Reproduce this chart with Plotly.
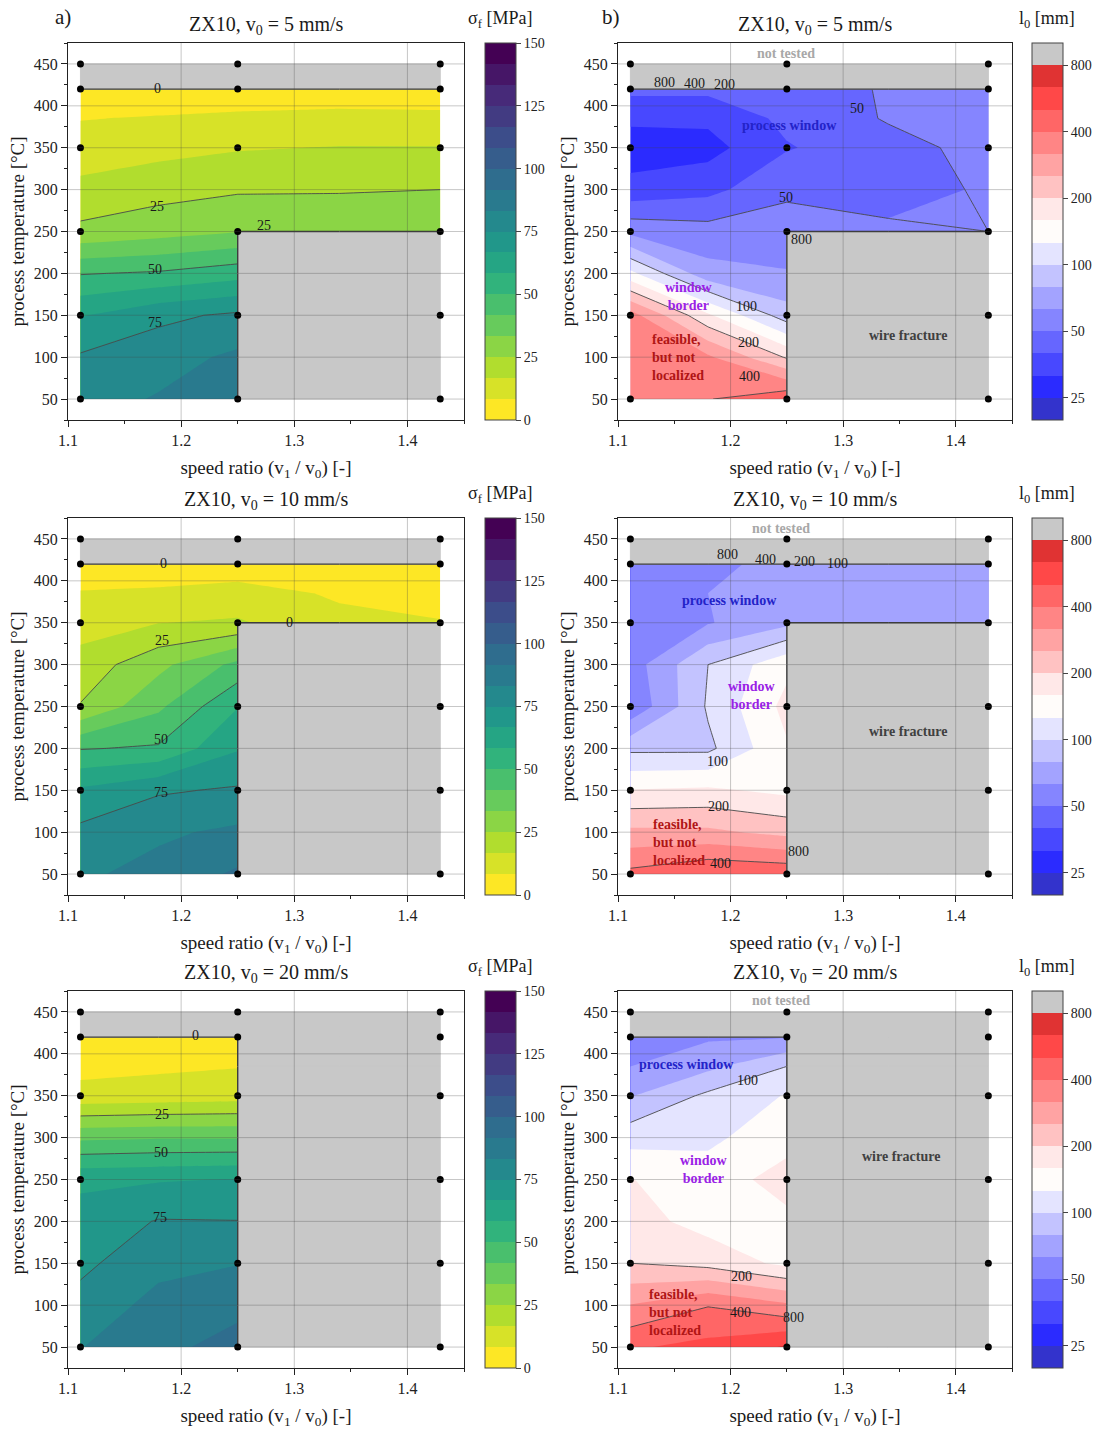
import numpy as np
import plotly.graph_objects as go

# ---------------- data ----------------
X_GRID = [1.111, 1.18, 1.25, 1.34, 1.429]           # speed ratio grid of the maps
T_GRID = [50, 100, 150, 200, 250, 300, 350, 385, 420, 450]  # temperature grid
SPEED = [1.111, 1.25, 1.429]                        # tested speed ratios (dots)
TEMP = [50, 150, 250, 350, 420, 450]                # tested temperatures (dots)
N = None  # wire fracture / not tested

# fracture stress sigma_f [MPa], rows = T_GRID, cols = X_GRID
SIGMA_5 = [
    [80, 84, 88, N, N],
    [76, 80, 85, N, N],
    [66, 73, 76.5, N, N],
    [49.5, 51, 55, N, N],
    [27, 30, 33, 30, 29],
    [19, 22, 24, 24.5, 25],
    [12, 14, 16, 17, 17],
    [8, 9, 10, 11, 10.5],
    [2, 2, 3, 3, 3],
    [N, N, N, N, N],
]
SIGMA_10 = [
    [82, 86, 93, N, N],
    [77, 82, 85, N, N],
    [68, 74, 76, N, N],
    [49.5, 51, 66, N, N],
    [25.5, 40, 58, N, N],
    [20, 31, 44, N, N],
    [13, 16.5, 17.5, 11, 8.8],
    [9, 10, 12.5, 7, 5],
    [2, 2, 2, 2, 2],
    [N, N, N, N, N],
]
SIGMA_20 = [
    [83, 90, 94, N, N],
    [78, 86, 90, N, N],
    [73, 81, 83, N, N],
    [70, 75.5, 75.2, N, N],
    [65, 66, 67, N, N],
    [40, 41, 41, N, N],
    [11, 12, 13, N, N],
    [6, 7, 8, N, N],
    [2, 2, 2, N, N],
    [N, N, N, N, N],
]
# deformation length l0 [mm]
L0_5 = [
    [380, 395, 480, N, N],
    [360, 330, 195, N, N],
    [350, 165, 88, N, N],
    [134, 68, 64, N, N],
    [59, 55, 55, 53, 50],
    [34, 37, 48, 44, 52],
    [28, 29, 39, 46, 54],
    [33, 33, 42, 51, 56],
    [42, 42, 45, 51, 56],
    [N, N, N, N, N],
]
L0_10 = [
    [427, 500, 480, N, N],
    [266, 265, 235, N, N],
    [160, 165, 150, N, N],
    [95, 95, 155, N, N],
    [52, 103, 170, N, N],
    [56, 100, 150, N, N],
    [55, 62, 75, 72, 72],
    [54, 63, 72, 72, 72],
    [52, 58, 70, 72, 72],
    [N, N, N, N, N],
]
L0_20 = [
    [490, 540, 650, N, N],
    [320, 395, 330, N, N],
    [200, 185, 150, N, N],
    [175, 145, 150, N, N],
    [160, 140, 175, N, N],
    [115, 120, 145, N, N],
    [78, 105, 128, N, N],
    [63, 75, 100, N, N],
    [52, 61, 62, N, N],
    [N, N, N, N, N],
]
V0 = [5, 10, 20]

SIGMA_TICKS = [0, 25, 50, 75, 100, 125, 150]
L0_TICKS = [25, 50, 100, 200, 400, 800]
X_TICKS = [1.1, 1.2, 1.3, 1.4]
Y_TICKS = [50, 100, 150, 200, 250, 300, 350, 400, 450]

L0_COLORS = ['#3333cc', '#2b2bff', '#4848ff', '#6666ff', '#8585ff', '#a3a3ff',
             '#c3c3ff', '#e4e4ff', '#fffcfa', '#ffe8e8', '#ffc2c2', '#ffa3a3',
             '#ff8585', '#ff6666', '#ff4848', '#e03333', '#c8c8c8']
GRAY = '#c8c8c8'
FONT = 'Liberation Serif'

# contour labels (text, x, y)
LABELS = {
    1: [('0', 1.179, 421), ('25', 1.179, 280), ('25', 1.273, 257), ('50', 1.177, 205), ('75', 1.177, 141)],
    3: [('0', 1.184, 421), ('0', 1.296, 350), ('25', 1.183, 329), ('50', 1.182, 211), ('75', 1.182, 147)],
    5: [('0', 1.213, 422), ('25', 1.183, 327), ('50', 1.182, 282), ('75', 1.181, 205)],
    2: [('800', 1.141, 428), ('400', 1.168, 427), ('200', 1.195, 426), ('50', 1.312, 397), ('50', 1.249, 291),
        ('800', 1.263, 241), ('100', 1.214, 160), ('200', 1.216, 118), ('400', 1.217, 77)],
    4: [('800', 1.197, 432), ('400', 1.231, 426), ('200', 1.266, 423), ('100', 1.295, 421), ('100', 1.188, 184),
        ('200', 1.189, 131), ('400', 1.191, 63), ('800', 1.260, 77)],
    6: [('100', 1.215, 368), ('200', 1.210, 134), ('400', 1.209, 91), ('800', 1.256, 85)],
}
# region texts: (text, x, y, color, xanchor)
REGIONS = {
    2: [('not tested', 1.249, 463, '#a8a8a8', 'center'), ('process window', 1.252, 376, '#2323c8', 'center'),
        ('window<br>border', 1.163, 172, '#9a22e6', 'center'),
        ('feasible,<br>but not<br>localized', 1.128, 100, '#b01515', 'left'),
        ('wire fracture', 1.358, 126, '#404040', 'center')],
    4: [('not tested', 1.245, 462, '#a8a8a8', 'center'), ('process window', 1.199, 376, '#2323c8', 'center'),
        ('window<br>border', 1.219, 263, '#9a22e6', 'center'),
        ('feasible,<br>but not<br>localized', 1.129, 88, '#b01515', 'left'),
        ('wire fracture', 1.358, 220, '#404040', 'center')],
    6: [('not tested', 1.245, 464, '#a8a8a8', 'center'), ('process window', 1.117, 387, '#2323c8', 'left'),
        ('window<br>border', 1.176, 262, '#9a22e6', 'center'),
        ('feasible,<br>but not<br>localized', 1.126, 91, '#b01515', 'left'),
        ('wire fracture', 1.351, 277, '#404040', 'center')],
}

# ---------------- layout geometry ----------------
W, H = 1104, 1429
XDOM = {'L': [68 / W, 464 / W], 'R': [618 / W, 1012 / W]}
CBX = {'L': 485 / W, 'R': 1032 / W}
ROWS = [(43, 420), (518, 895), (991, 1368)]


def ydom(r):
    top, bot = ROWS[r]
    return [1 - bot / H, 1 - top / H]


fig = go.Figure()
layout = dict(width=W, height=H, margin=dict(l=0, r=0, t=0, b=0), autosize=False,
              paper_bgcolor='white', plot_bgcolor='white', showlegend=False,
              font=dict(family=FONT, color='#1a1a1a'))
annotations = []
shapes = []

panels = []
for r, v0 in enumerate(V0):
    panels.append(dict(idx=2 * r + 1, row=r, side='L', kind='sigma', data=[SIGMA_5, SIGMA_10, SIGMA_20][r], v0=v0))
    panels.append(dict(idx=2 * r + 2, row=r, side='R', kind='l0', data=[L0_5, L0_10, L0_20][r], v0=v0))

nR, nC = len(T_GRID), len(X_GRID)

for p in panels:
    i = p['idx']
    xa = 'x' if i == 1 else f'x{i}'
    ya = 'y' if i == 1 else f'y{i}'
    raw = np.array([[np.nan if v is None else v for v in row] for row in p['data']], dtype=float)

    if p['kind'] == 'sigma':
        z = raw
        step = 25 / 3
        fill_c = dict(coloring='fill', showlines=False, start=step, end=150 - step, size=step)
        line_c = dict(coloring='none', showlines=True, start=0, end=150, size=25)
        cscale, rev = 'Viridis', True
        zmin, zmax = 0, 150
        cb_tickvals = SIGMA_TICKS
        cb_ticktext = [str(t) for t in SIGMA_TICKS]
        cbtitle = 'σ<sub>f</sub> [MPa]'
    else:
        z = np.log2(raw)
        step = 1 / 3
        top = np.log2(800)
        fill_c = dict(coloring='fill', showlines=False, start=np.log2(25), end=top, size=step)
        line_c = dict(coloring='none', showlines=True, start=np.log2(50), end=top, size=1)
        n = len(L0_COLORS) - 1
        cscale = [[k / n, c] for k, c in enumerate(L0_COLORS)]
        rev = False
        zmin, zmax = top - 16 * step, top + step
        cb_tickvals = list(np.log2(L0_TICKS))
        cb_ticktext = [str(t) for t in L0_TICKS]
        cbtitle = 'l<sub>0</sub> [mm]'

    yd = ydom(p['row'])
    fig.add_trace(go.Contour(
        x=X_GRID, y=T_GRID, z=z, xaxis=xa, yaxis=ya, contours=fill_c,
        line=dict(width=0, smoothing=0), colorscale=cscale, reversescale=rev,
        zauto=False, zmin=zmin, zmax=zmax, hoverinfo='skip', showscale=True,
        colorbar=dict(x=CBX[p['side']], xanchor='left', xpad=0, ypad=0,
                      y=(yd[0] + yd[1]) / 2, yanchor='middle', len=yd[1] - yd[0], lenmode='fraction',
                      thickness=31, thicknessmode='pixels', outlinewidth=1, outlinecolor='#444',
                      tickmode='array', tickvals=cb_tickvals, ticktext=cb_ticktext,
                      ticks='outside', ticklen=5, tickcolor='#444',
                      tickfont=dict(family=FONT, size=14, color='#222'))))
    fig.add_trace(go.Contour(
        x=X_GRID, y=T_GRID, z=z, xaxis=xa, yaxis=ya, contours=line_c,
        line=dict(color='#4a4a4a', width=0.9, smoothing=0), colorscale=cscale,
        showscale=False, hoverinfo='skip'))

    # gray cells (fracture / not tested) and their borders to valid cells
    gray = [[any(p['data'][a][b] is None for a in (ii, ii + 1) for b in (jj, jj + 1))
             for jj in range(nC - 1)] for ii in range(nR - 1)]
    gx, gy, bx, by = [], [], [], []
    for ii in range(nR - 1):
        for jj in range(nC - 1):
            if not gray[ii][jj]:
                continue
            x0, x1 = X_GRID[jj], X_GRID[jj + 1]
            y0, y1 = T_GRID[ii], T_GRID[ii + 1]
            gx += [x0, x1, x1, x0, x0, None]
            gy += [y0, y0, y1, y1, y0, None]
            if jj + 1 < nC - 1 and not gray[ii][jj + 1]:
                bx += [x1, x1, None]; by += [y0, y1, None]
            if jj - 1 >= 0 and not gray[ii][jj - 1]:
                bx += [x0, x0, None]; by += [y0, y1, None]
            if ii + 1 < nR - 1 and not gray[ii + 1][jj]:
                bx += [x0, x1, None]; by += [y1, y1, None]
            if ii - 1 >= 0 and not gray[ii - 1][jj]:
                bx += [x0, x1, None]; by += [y0, y0, None]
    fig.add_trace(go.Scatter(x=gx, y=gy, xaxis=xa, yaxis=ya, mode='lines', fill='toself',
                             fillcolor=GRAY, line=dict(color=GRAY, width=1), hoverinfo='skip'))
    fig.add_trace(go.Scatter(x=bx, y=by, xaxis=xa, yaxis=ya, mode='lines',
                             line=dict(color='#3c3c3c', width=1.4), hoverinfo='skip'))
    fig.add_trace(go.Scatter(x=[s for t in TEMP for s in SPEED], y=[t for t in TEMP for s in SPEED],
                             xaxis=xa, yaxis=ya, mode='markers',
                             marker=dict(color='black', size=7), hoverinfo='skip'))

    # axes
    xkey = 'xaxis' if i == 1 else f'xaxis{i}'
    ykey = 'yaxis' if i == 1 else f'yaxis{i}'
    common = dict(showline=True, linecolor='#222', linewidth=1, mirror=True, showgrid=False,
                  zeroline=False, ticks='outside', ticklen=6, tickcolor='#222',
                  tickfont=dict(family=FONT, size=16, color='#222'), automargin=False)
    layout[xkey] = dict(common, domain=XDOM[p['side']], anchor=ya, range=[1.1, 1.45],
                        tickvals=X_TICKS, ticktext=[f'{t:.1f}' for t in X_TICKS],
                        minor=dict(ticks='outside', ticklen=3, dtick=0.05, tick0=1.1, tickcolor='#222'),
                        title=dict(text='speed ratio (v<sub>1</sub> / v<sub>0</sub>) [-]',
                                   font=dict(family=FONT, size=19, color='#1a1a1a'), standoff=12))
    layout[ykey] = dict(common, domain=yd, anchor=xa, range=[25, 475],
                        tickvals=Y_TICKS, ticktext=[str(t) for t in Y_TICKS],
                        minor=dict(ticks='outside', ticklen=3, dtick=25, tick0=0, tickcolor='#222'),
                        title=dict(text='process temperature [°C]',
                                   font=dict(family=FONT, size=19, color='#1a1a1a'), standoff=4))

    # grid lines drawn above the maps
    for t in X_TICKS[1:]:
        shapes.append(dict(type='line', xref=xa, yref=f'{ya} domain', x0=t, x1=t, y0=0, y1=1,
                           line=dict(color='rgba(70,70,70,0.3)', width=1), layer='above'))
    for t in Y_TICKS:
        shapes.append(dict(type='line', xref=f'{xa} domain', yref=ya, x0=0, x1=1, y0=t, y1=t,
                           line=dict(color='rgba(70,70,70,0.3)', width=1), layer='above'))

    # title
    xd = XDOM[p['side']]
    annotations.append(dict(xref='paper', yref='paper', x=(xd[0] + xd[1]) / 2, y=yd[1],
                            xanchor='center', yanchor='bottom', yshift=3, showarrow=False,
                            text=f'ZX10, v<sub>0</sub> = {p["v0"]} mm/s',
                            font=dict(family=FONT, size=20, color='#1a1a1a')))
    # colorbar title
    annotations.append(dict(xref='paper', yref='paper', x=CBX[p['side']] + 15 / W, y=yd[1],
                            xanchor='center', yanchor='bottom', yshift=10, showarrow=False, text=cbtitle,
                            font=dict(family=FONT, size=18, color='#1a1a1a')))
    # contour labels
    for txt, lx, ly in LABELS[i]:
        annotations.append(dict(xref=xa, yref=ya, x=lx, y=ly, text=txt, showarrow=False,
                                xanchor='center', yanchor='middle',
                                font=dict(family=FONT, size=14, color='#1a1a1a')))
    for txt, lx, ly, col, anc in REGIONS.get(i, []):
        annotations.append(dict(xref=xa, yref=ya, x=lx, y=ly, text=f'<b>{txt}</b>', showarrow=False,
                                xanchor=anc, yanchor='middle', align='left' if anc == 'left' else 'center',
                                font=dict(family=FONT, size=14, color=col)))

annotations.append(dict(xref='paper', yref='paper', x=63 / W, y=1 - 17 / H, text='a)', showarrow=False,
                        xanchor='center', yanchor='middle',
                        font=dict(family=FONT, size=21, color='#1a1a1a')))
annotations.append(dict(xref='paper', yref='paper', x=611 / W, y=1 - 17 / H, text='b)', showarrow=False,
                        xanchor='center', yanchor='middle',
                        font=dict(family=FONT, size=21, color='#1a1a1a')))

layout['annotations'] = annotations
layout['shapes'] = shapes
fig.update_layout(**layout)
fig.write_html('out.html')
